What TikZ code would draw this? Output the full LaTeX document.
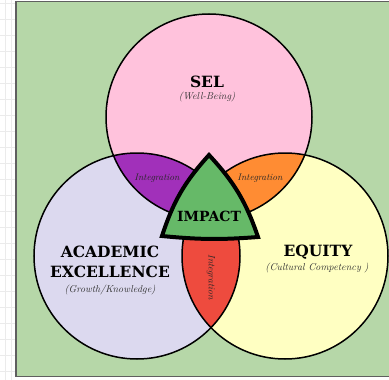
\documentclass[tikz,border=0pt]{standalone}
\usepackage{fontspec}
\newfontfamily\headfont{DejaVu Serif}

\definecolor{sheetgreen}{HTML}{B6D7A8}
\definecolor{framegray}{HTML}{5F5F5F}
\definecolor{selpink}{HTML}{FFC2DC}
\definecolor{acadlilac}{HTML}{DCD9EF}
\definecolor{eqyellow}{HTML}{FFFFC2}
\definecolor{lenspurple}{HTML}{A130BA}
\definecolor{lensorange}{HTML}{FF8C33}
\definecolor{lensred}{HTML}{EE4B3E}
\definecolor{impactgreen}{HTML}{66B968}

\tikzset{
  ring/.style={draw=black, line width=1.5pt},
  head/.style={font=\headfont\bfseries\fontsize{15.5}{17}\selectfont},
  sub/.style={font=\itshape\fontsize{10}{11}\selectfont, text=black!80},
  lens/.style={font=\itshape\fontsize{9.5}{10}\selectfont, text=black!85},
}

\def\selring{(209,117) circle (103)}
\def\acadring{(137,256) circle (103)}
\def\eqring{(285,256) circle (103)}

\begin{document}
\begin{tikzpicture}[x=1pt,y=-1pt]
    \useasboundingbox (0,0) rectangle (389,380);
    %% Draw the sheet
    \fill[white] (0,0) rectangle (389,380);
    \foreach \y in {3,19,...,380}
      \draw[black!8] (0,\y) -- (16,\y);
    \foreach \x in {5,11}
      \draw[black!8] (\x,0) -- (\x,380);
    \draw[fill=sheetgreen, draw=framegray, line width=1.5pt] (16,1.5) rectangle (395,376.5);
    %% Draw the circles
    \fill[selpink] \selring;
    \fill[acadlilac] \acadring;
    \fill[eqyellow] \eqring;
    %% Draw the overlaps
    \begin{scope}
      \clip \selring;
      \fill[lenspurple] \acadring;
      \fill[lensorange] \eqring;
    \end{scope}
    \begin{scope}
      \clip \acadring;
      \fill[lensred] \eqring;
    \end{scope}
    \begin{scope}[every path/.style={ring}]
      \draw \selring;
      \draw \acadring;
      \draw \eqring;
    \end{scope}
    %% Draw the triangle
    \coordinate (top) at (209,155);
    \coordinate (left) at (162,236);
    \coordinate (right) at (258,237);
    \draw[fill=impactgreen, line width=4pt]
      (top) to[bend right=12] (left) to[bend right=5] (right) to[bend right=12] (top) -- cycle;
    %% Draw the labels
    \node[head] (sel) at (207,82) {SEL};
    \node[sub] (selsub) at (207,97) {(Well-Being)};
    \node[head] (acad) at (110,252) {ACADEMIC};
    \node[head] (excel) at (110,272) {EXCELLENCE};
    \node[sub] (acadsub) at (110,290) {(Growth/Knowledge)};
    \node[head] (equity) at (318,252) {EQUITY};
    \node[sub] (eqsub) at (317,268) {(Cultural Competency )};
    \node[head, font=\headfont\bfseries\fontsize{14}{16}\selectfont] (impact) at (209,216) {IMPACT};
    %% Draw the overlap labels
    \node[lens] (intsa) at (157,178) {Integration};
    \node[lens] (intse) at (260,178) {Integration};
    \node[lens, rotate=-90] (intae) at (211,277) {Integration};
\end{tikzpicture}
\end{document}
